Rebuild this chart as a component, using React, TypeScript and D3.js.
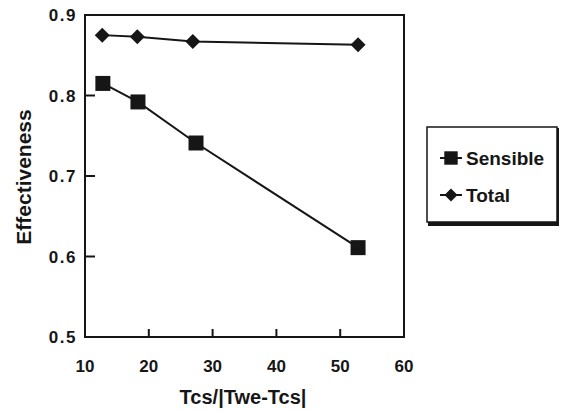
import React from "react";
import * as d3 from "d3";

const sensibleX = [12.8, 18.3, 27.4, 52.8];
const sensibleY = [0.815, 0.792, 0.741, 0.611];
const totalX = [12.7, 18.2, 26.9, 52.8];
const totalY = [0.875, 0.873, 0.867, 0.863];
const xTicks = [10, 20, 30, 40, 50, 60];
const yTicks = [0.5, 0.6, 0.7, 0.8, 0.9];
const legendLabels = ["Sensible", "Total"];
const xLabel = "Tcs/|Twe-Tcs|";
const yLabel = "Effectiveness";

function diamond(r: number) {
  const p = d3.path();
  p.moveTo(0, -r);
  p.lineTo(r, 0);
  p.lineTo(0, r);
  p.lineTo(-r, 0);
  p.closePath();
  return p.toString();
}

export default function App() {
  const W = 562, H = 412;
  const x = d3.scaleLinear().domain([10, 60]).range([85, 404]);
  const y = d3.scaleLinear().domain([0.5, 0.9]).range([337, 15]);
  const line = d3.line<[number, number]>().x(d => x(d[0])).y(d => y(d[1]));
  const sens = sensibleX.map((v, i) => [v, sensibleY[i]] as [number, number]);
  const tot = totalX.map((v, i) => [v, totalY[i]] as [number, number]);
  const ink = "#161616";
  const font = "Liberation Sans, Arial, sans-serif";
  const sq = d3.symbol().type(d3.symbolSquare).size(225)();
  const dm = diamond(7.5);
  return (
    <svg width={W} height={H} style={{ position: "absolute", left: 0, top: 0, background: "#fff" }}>
      <rect x={0} y={0} width={W} height={H} fill="#fff" />
      <rect x={x(10)} y={y(0.9)} width={x(60) - x(10)} height={y(0.5) - y(0.9)} fill="none" stroke={ink} strokeWidth={2} />
      {xTicks.map(t => (
        <g key={"x" + t}>
          <line x1={x(t)} x2={x(t)} y1={y(0.5)} y2={y(0.5) - 8} stroke={ink} strokeWidth={2} />
          <text x={x(t)} y={372} textAnchor="middle" fontSize={17} fontWeight="bold" fontFamily={font} fill={ink}>{t}</text>
        </g>
      ))}
      {yTicks.map(t => (
        <g key={"y" + t}>
          <line x1={x(10)} x2={x(10) + 10} y1={y(t)} y2={y(t)} stroke={ink} strokeWidth={2} />
          <text x={77} y={y(t) + 6} textAnchor="end" fontSize={17} fontWeight="bold" letterSpacing={1.5} fontFamily={font} fill={ink}>{t.toFixed(1)}</text>
        </g>
      ))}
      <text x={243} y={404} textAnchor="middle" fontSize={20} fontWeight="bold" fontFamily={font} fill={ink}>{xLabel}</text>
      <text transform={`translate(31,177) rotate(-90)`} textAnchor="middle" fontSize={21} fontWeight="bold" fontFamily={font} fill={ink}>{yLabel}</text>
      <path d={line(tot) || ""} fill="none" stroke={ink} strokeWidth={2} />
      <path d={line(sens) || ""} fill="none" stroke={ink} strokeWidth={2} />
      {tot.map((d, i) => (
        <path key={"t" + i} d={dm} transform={`translate(${x(d[0])},${y(d[1])})`} fill={ink} />
      ))}
      {sens.map((d, i) => (
        <path key={"s" + i} d={sq || ""} transform={`translate(${x(d[0])},${y(d[1])})`} fill={ink} />
      ))}
      <g>
        <rect x={428} y={128} width={131} height={98} fill={ink} />
        <rect x={427} y={127} width={130} height={95} fill="#fff" stroke={ink} strokeWidth={1.5} />
        {legendLabels.map((lab, i) => {
          const ly = 158 + i * 37;
          return (
            <g key={lab}>
              <line x1={440} x2={462} y1={ly} y2={ly} stroke={ink} strokeWidth={2} />
              <path d={(i === 0 ? d3.symbol().type(d3.symbolSquare).size(180)() : diamond(6.5)) || ""}
                transform={`translate(451,${ly})`} fill={ink} />
              <text x={466} y={ly + 7} fontSize={19} fontWeight="bold" fontFamily={font} fill={ink}>{lab}</text>
            </g>
          );
        })}
      </g>
    </svg>
  );
}
